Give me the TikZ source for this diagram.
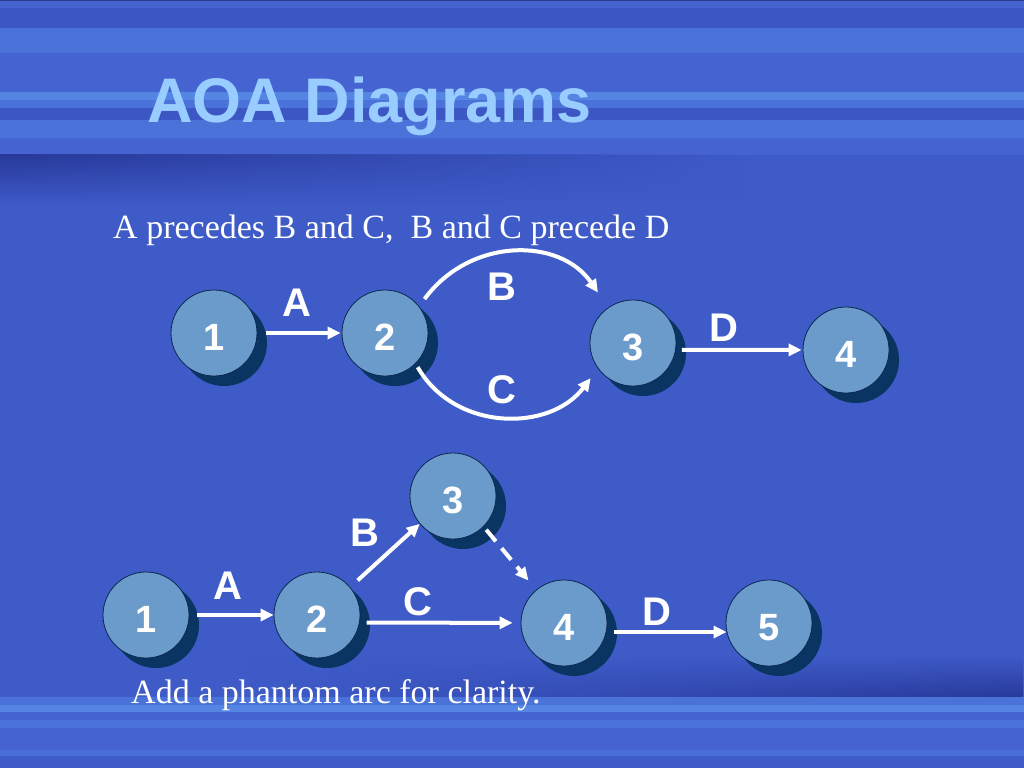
\documentclass[tikz,border=0pt]{standalone}
\usepackage{fontspec}
\setmainfont{Liberation Serif}
\newfontfamily\arialfont{Liberation Sans}
\usetikzlibrary{arrows.meta,shadows,fadings}
\definecolor{bgmain}{HTML}{3E5BC8}
\definecolor{bgdark}{HTML}{28399A}
\definecolor{bgline}{HTML}{2B3B8A}
\definecolor{stlight}{HTML}{4A72D8}
\definecolor{stmid}{HTML}{4563D1}
\definecolor{stdark}{HTML}{3C56C4}
\definecolor{stbright}{HTML}{5585E2}
\definecolor{titleblue}{HTML}{99CCFF}
\definecolor{evfill}{HTML}{6B9BCB}
\definecolor{evline}{HTML}{0B2850}
\definecolor{evshadow}{HTML}{0A3461}
\newcommand\evfont{\arialfont\bfseries\fontsize{38}{38}\selectfont}
\newcommand\actfont{\arialfont\bfseries\fontsize{40}{40}\selectfont}
\tikzset{
  event/.style={circle, draw=evline, line width=0.8pt, fill=evfill, minimum size=86pt,
    inner sep=0pt, text=white, font=\evfont, text height=35pt, text depth=0pt,
    drop shadow={shadow xshift=10pt, shadow yshift=-10pt, fill=evshadow, opacity=1}},
  act/.style={draw=white, line width=4pt, -{Triangle[length=13pt,width=12pt]}},
  actlabel/.style={text=white, font=\actfont, inner sep=0pt},
  slidetext/.style={anchor=base west, inner sep=0pt, text=white, font=\fontsize{34}{34}\selectfont}
}
\begin{document}
\begin{tikzpicture}[x=1pt,y=-1pt]
\useasboundingbox (0,0) rectangle (1024,768);
\fill[bgmain] (0,0) rectangle (1024,768);
\fill[stmid] (0,0) rectangle (1024,155);
\fill[bgline] (0,0) rectangle (1024,1.5);
\fill[stdark] (0,8) rectangle (1024,28);
\fill[stlight] (0,28) rectangle (1024,53);
\fill[stbright] (0,92) rectangle (1024,100);
\fill[stlight] (0,100) rectangle (1024,108);
\fill[stdark] (0,108) rectangle (1024,120);
\fill[stlight] (0,120) rectangle (1024,138);
\shade[top color=bgdark, bottom color=bgmain, path fading=east] (0,155) rectangle (750,205);
\shade[top color=bgmain, bottom color=bgdark, path fading=west] (250,655) rectangle (1024,697);
\fill[stlight] (0,697) rectangle (1024,705);
\fill[stbright] (0,705) rectangle (1024,712);
\fill[stmid] (0,712) rectangle (1024,720);
\fill[stlight] (0,720) rectangle (1024,728);
\fill[stmid] (0,728) rectangle (1024,750);
\fill[stlight!80!stmid] (0,750) rectangle (1024,756);

\node[anchor=base west, inner sep=0pt, text=titleblue, font=\arialfont\bfseries\fontsize{63}{63}\selectfont] (title) at (147,122) {AOA Diagrams};
\node[slidetext] (rule) at (113,238) {A precedes B and C,\ \ B and C precede D};
\node[slidetext] (note) at (131,703) {Add a phantom arc for clarity.};

\node[event] (a1) at (214,333) {1};
\node[event] (a2) at (385,333) {2};
\node[event] (a3) at (633,343) {3};
\node[event] (a4) at (846,350) {4};

\draw[act, shorten <=9pt, shorten >=1pt] (a1) -- (a2);
\draw[act, shorten <=9pt, shorten >=18pt] (a2.38) .. controls (470,237) and (560,237) .. (a3.125);
\draw[act, shorten <=4pt, shorten >=12pt] (a2.-45) .. controls (455,432) and (550,432) .. (a3.216);
\draw[act, shorten <=6pt, shorten >=1pt] (a3.-9) -- (a4);
\node[actlabel] (lA1) at (297,303) {A};
\node[actlabel] (lB1) at (502,287) {B};
\node[actlabel] (lC1) at (502,390) {C};
\node[actlabel] (lD1) at (724,328) {D};

\node[event] (b1) at (146,615) {1};
\node[event] (b2) at (317,615) {2};
\node[event] (b3) at (453,496) {3};
\node[event] (b4) at (564,623) {4};
\node[event] (b5) at (769,623) {5};

\draw[act, shorten <=8pt] (b1) -- (b2);
\draw[act, shorten <=10pt] (b2.40) -- (b3.220);
\draw[act, shorten <=7pt, shorten >=8pt] (b2.-10) -- (b4);
\draw[act, dash pattern=on 15pt off 9pt, shorten <=4pt, shorten >=12pt] (b3.-45) -- (b4.130);
\draw[act, shorten <=8pt] (b4.-12) -- (b5.192);
\node[actlabel] (lA2) at (228,586) {A};
\node[actlabel] (lB2) at (365,533) {B};
\node[actlabel] (lC2) at (418,602) {C};
\node[actlabel] (lD2) at (657,612) {D};
\end{tikzpicture}
\end{document}
